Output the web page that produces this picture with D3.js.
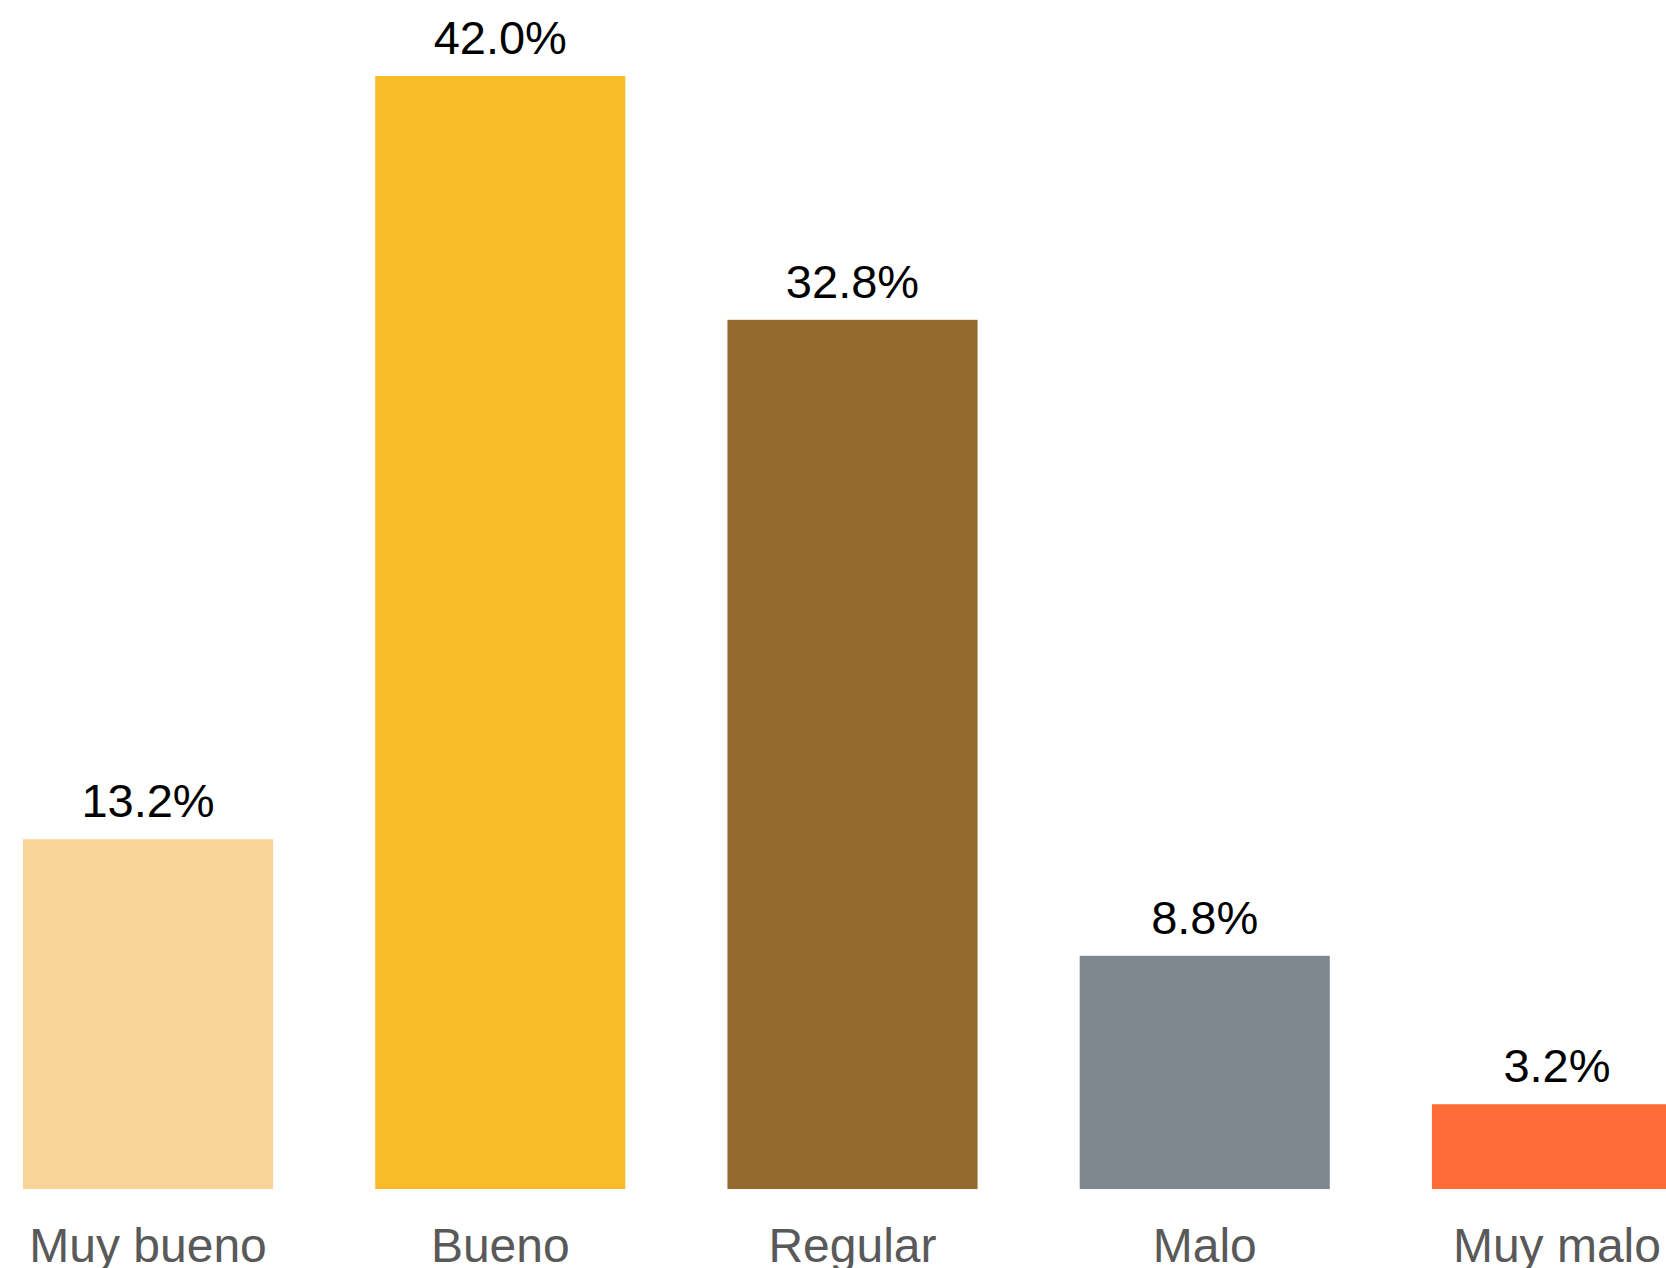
<!DOCTYPE html>
<html>
<head>
<meta charset="utf-8">
<script src="https://cdn.jsdelivr.net/npm/d3@7"></script>
<style>
  html, body { margin: 0; padding: 0; background: #fff; overflow: hidden; }
  svg { display: block; }
</style>
</head>
<body>
<svg id="chart" width="1666" height="1268"></svg>
<script>
const categories = ["Muy bueno", "Bueno", "Regular", "Malo", "Muy malo"];
const values = [13.2, 42.0, 32.8, 8.8, 3.2];
const colors = ["#F9D499", "#FABB28", "#94692D", "#7F888E", "#FF6C37"];

const svg = d3.select("#chart");
const x = d3.scaleBand().domain(categories).range([23, 1682]).paddingInner(0.29).paddingOuter(0);
const y = d3.scaleLinear().domain([0, 42]).range([1189, 76]);

const data = categories.map((c, i) => ({ c, v: values[i], col: colors[i] }));

svg.selectAll("rect.bar").data(data).join("rect")
  .attr("class", "bar")
  .attr("x", d => x(d.c))
  .attr("width", x.bandwidth())
  .attr("y", d => y(d.v))
  .attr("height", d => y(0) - y(d.v))
  .attr("fill", d => d.col);

svg.selectAll("text.val").data(data).join("text")
  .attr("class", "val")
  .attr("x", d => x(d.c) + x.bandwidth() / 2)
  .attr("y", d => y(d.v) - 22)
  .attr("text-anchor", "middle")
  .attr("font-family", "Liberation Sans, Arial, sans-serif")
  .attr("font-size", 47)
  .attr("fill", "#000")
  .text(d => d.v.toFixed(1) + "%");

const axis = d3.axisBottom(x).tickSize(0).tickPadding(0);
const g = svg.append("g").attr("transform", "translate(0,1189)").call(axis);
g.select(".domain").remove();
g.selectAll("text")
  .attr("dy", null)
  .attr("y", 73)
  .attr("font-family", "Liberation Sans, Arial, sans-serif")
  .attr("font-size", 48)
  .attr("fill", "#595959");
</script>
</body>
</html>
